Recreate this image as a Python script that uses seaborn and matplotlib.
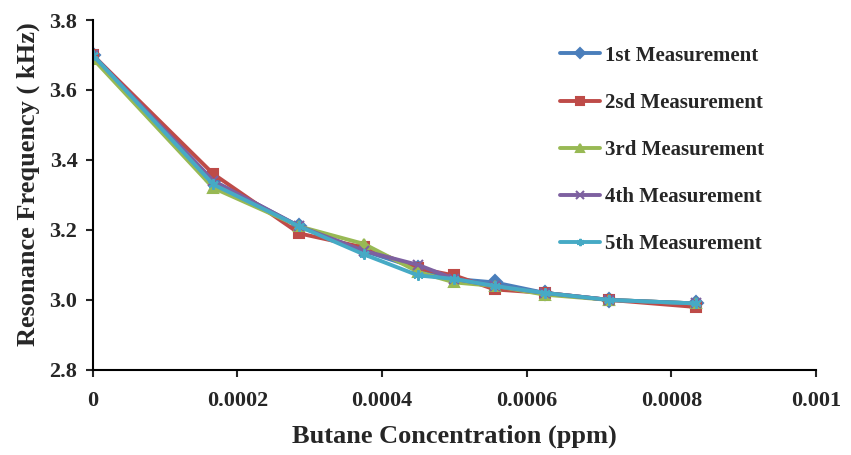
import pandas as pd
import matplotlib.pyplot as plt
import seaborn as sns

# concentration (ppm) and resonance frequency (kHz)
conc = [0, 0.0001667, 0.0002857, 0.000375, 0.00045, 0.0005, 0.0005556, 0.000625, 0.0007143, 0.0008333]
m1 = [3.70, 3.34, 3.21, 3.14, 3.09, 3.06, 3.05, 3.02, 3.00, 2.99]
m2 = [3.70, 3.36, 3.19, 3.15, 3.09, 3.07, 3.03, 3.02, 3.00, 2.98]
m3 = [3.69, 3.32, 3.21, 3.16, 3.08, 3.05, 3.04, 3.015, 3.00, 2.99]
m4 = [3.70, 3.34, 3.21, 3.14, 3.10, 3.06, 3.04, 3.02, 3.00, 2.99]
m5 = [3.70, 3.33, 3.21, 3.13, 3.07, 3.06, 3.04, 3.02, 3.00, 2.99]
names = ["1st Measurement", "2sd Measurement", "3rd Measurement", "4th Measurement", "5th Measurement"]
colors = ["#4A7EBB", "#BE4B48", "#98B954", "#7D60A0", "#46AAC5"]
markers = ["D", "s", "^", "x", (6, 2, 0)]

sns.set_style("white")
plt.rcParams['font.family'] = ['Liberation Serif', 'DejaVu Serif']
plt.rcParams['font.weight'] = 'bold'

fig = plt.figure(figsize=(8.51, 4.55), dpi=100)
ax = fig.add_axes([0.109, 0.187, 0.850, 0.769])

for name, vals, col, mk in zip(names, [m1, m2, m3, m4, m5], colors, markers):
    d = pd.DataFrame({"conc": conc, "freq": vals})
    sns.lineplot(data=d, x="conc", y="freq", color=col, marker=mk, label=name,
                 linewidth=2.8, markersize=7.5, markeredgewidth=1.5,
                 markeredgecolor=col, ax=ax)

ax.set_xlim(0, 0.001)
ax.set_ylim(2.8, 3.8)
ax.set_xticks([0, 0.0002, 0.0004, 0.0006, 0.0008, 0.001])
ax.set_xticklabels(["0", "0.0002", "0.0004", "0.0006", "0.0008", "0.001"])
ax.set_yticks([2.8, 3.0, 3.2, 3.4, 3.6, 3.8])
ax.set_yticklabels(["2.8", "3.0", "3.2", "3.4", "3.6", "3.8"])
ax.tick_params(axis='both', labelsize=16, direction='out', length=5, width=1.5,
               bottom=True, left=True)
ax.tick_params(axis='x', pad=10)
ax.tick_params(axis='y', pad=6)
for lab in ax.get_xticklabels() + ax.get_yticklabels():
    lab.set_fontweight('bold')

for side in ["top", "right"]:
    ax.spines[side].set_visible(False)
for side in ["left", "bottom"]:
    ax.spines[side].set_color("black")
    ax.spines[side].set_linewidth(1.5)

ax.set_xlabel("Butane Concentration (ppm)", fontsize=19, fontweight='bold', labelpad=10)
ax.set_ylabel("Resonance Frequency ( kHz)", fontsize=19, fontweight='bold')
ax.yaxis.set_label_coords(-0.073, 0.53)

handles, labels = ax.get_legend_handles_labels()
ax.legend(handles, labels, loc="upper left", bbox_to_anchor=(0.62, 0.98), frameon=False,
          labelspacing=1.3, handlelength=1.9, handletextpad=0.25, markerscale=0.7,
          prop={'weight': 'bold', 'size': 15})

fig.savefig("out.png", dpi=100)
